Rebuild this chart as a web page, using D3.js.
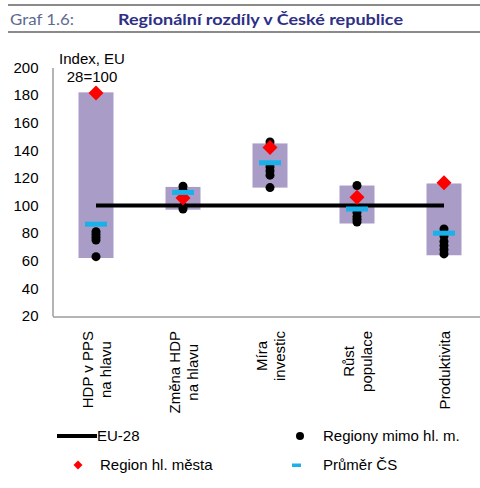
<!DOCTYPE html>
<meta charset="utf-8">
<head>
<style>
  body { margin: 0; background: #fff; }
  svg { display: block; }
  text { font-family: "Liberation Sans", Arial, sans-serif; fill: #000; }
</style>
</head>
<body>
<div id="chart"></div>
<script src="https://d3js.org/d3.v7.min.js"></script>
<script>
// chart data
var categories = ["HDP v PPS|na hlavu", "Změna HDP|na hlavu", "Míra|investic", "Růst|populace", "Produktivita"];
var rangeMin = [62, 97, 113, 87, 64];
var rangeMax = [182, 113.5, 145, 114.5, 116];
var capitalRegion = [181.5, 105.5, 142, 106, 116.5];
var czAverage = [86.5, 109.5, 131, 97.5, 80];
var otherRegions = [
  [81, 79, 77, 75, 63],
  [114, 111, 99, 97.5],
  [146, 128, 125, 122, 113],
  [114.5, 95, 92, 90, 88],
  [83, 78, 74, 71, 68, 65]
];
var euLevel = 100;
var yTicks = [20, 40, 60, 80, 100, 120, 140, 160, 180, 200];

var W = 480, H = 488;
var svg = d3.select("#chart").append("svg")
  .attr("width", W).attr("height", H);

// header
svg.append("line").attr("x1", 8).attr("x2", W).attr("y1", 5).attr("y2", 5)
  .attr("stroke", "#8a8a8a").attr("stroke-width", 2);
svg.append("line").attr("x1", 8).attr("x2", W).attr("y1", 32).attr("y2", 32)
  .attr("stroke", "#8a8a8a").attr("stroke-width", 2);
svg.append("text").attr("x", 10).attr("y", 25)
  .style("font-family", "Lato, 'Open Sans', sans-serif")
  .style("font-size", "16px").style("fill", "#5d6a93")
  .attr("textLength", 64).attr("lengthAdjust", "spacingAndGlyphs")
  .text("Graf 1.6:");
svg.append("text").attr("x", 118).attr("y", 25)
  .style("font-family", "Lato, 'Open Sans', sans-serif")
  .style("font-size", "16px").style("font-weight", "bold").style("fill", "#2e2f86")
  .attr("textLength", 285).attr("lengthAdjust", "spacingAndGlyphs")
  .text("Regionální rozdíly v České republice");

var x = d3.scaleBand().domain(categories).range([52.5, 487.5]);
var y = d3.scaleLinear().domain([20, 200]).range([316, 67.5]);
var cx = function(i) { return x(categories[i]) + x.bandwidth() / 2; };

// axes
var yAxis = svg.append("g").attr("transform", "translate(52.5,0)")
  .call(d3.axisLeft(y).tickValues(yTicks).tickSize(0).tickPadding(14));
yAxis.select(".domain").attr("stroke", "#6b6b6b");
yAxis.selectAll("text").style("font-size", "15px").style("font-family", "'Liberation Sans', Arial, sans-serif");

var xAxis = svg.append("g").attr("transform", "translate(0,316.5)")
  .call(d3.axisBottom(x).tickSize(0).tickFormat(""));
xAxis.select(".domain").attr("stroke", "#6b6b6b");

// unit label
svg.append("text").attr("x", 92).attr("y", 64).attr("text-anchor", "middle")
  .style("font-size", "15px").text("Index, EU");
svg.append("text").attr("x", 92).attr("y", 82).attr("text-anchor", "middle")
  .style("font-size", "15px").text("28=100");

// range bars
svg.selectAll("rect.range").data(categories).enter().append("rect")
  .attr("class", "range")
  .attr("x", function(d, i) { return cx(i) - 17.5; })
  .attr("width", 35)
  .attr("y", function(d, i) { return y(rangeMax[i]); })
  .attr("height", function(d, i) { return y(rangeMin[i]) - y(rangeMax[i]); })
  .attr("fill", "#a99cc7");

// EU-28 line
svg.append("line")
  .attr("x1", cx(0)).attr("x2", cx(categories.length - 1))
  .attr("y1", y(euLevel)).attr("y2", y(euLevel))
  .attr("stroke", "#000").attr("stroke-width", 4);

// other regions
var dots = [];
otherRegions.forEach(function(vals, i) { vals.forEach(function(v) { dots.push({i: i, v: v}); }); });
svg.selectAll("circle.reg").data(dots).enter().append("circle")
  .attr("class", "reg")
  .attr("cx", function(d) { return cx(d.i); })
  .attr("cy", function(d) { return y(d.v); })
  .attr("r", 4.5).attr("fill", "#000");

// capital region
svg.selectAll("path.cap").data(capitalRegion).enter().append("path")
  .attr("class", "cap")
  .attr("d", "M0,-7.5L7.5,0L0,7.5L-7.5,0Z")
  .attr("transform", function(d, i) { return "translate(" + cx(i) + "," + y(d) + ")"; })
  .attr("fill", "#ff0000");

// average
svg.selectAll("rect.avg").data(czAverage).enter().append("rect")
  .attr("class", "avg")
  .attr("x", function(d, i) { return cx(i) - 11; })
  .attr("y", function(d) { return y(d) - 2.5; })
  .attr("width", 22).attr("height", 5)
  .attr("fill", "#1ab0ea");

// category labels (rotated, top aligned)
categories.forEach(function(c, i) {
  var lines = c.split("|");
  var g = svg.append("g");
  var texts = lines.map(function(l, k) {
    return g.append("text").attr("text-anchor", "middle")
      .style("font-size", "15px").text(l);
  });
  var maxLen = d3.max(texts, function(t) { return t.node().getComputedTextLength(); });
  var n = lines.length;
  texts.forEach(function(t, k) {
    var bx = cx(i) + 6 + (k - (n - 1) / 2) * 17.5;
    var by = 331 + maxLen / 2;
    t.attr("transform", "translate(" + bx + "," + by + ") rotate(-90)");
  });
});

// legend
var lg = svg.append("g");
lg.append("line").attr("x1", 57).attr("x2", 97).attr("y1", 436).attr("y2", 436)
  .attr("stroke", "#000").attr("stroke-width", 4);
lg.append("text").attr("x", 97).attr("y", 441).style("font-size", "15px").text("EU-28");
lg.append("circle").attr("cx", 300).attr("cy", 436).attr("r", 4).attr("fill", "#000");
lg.append("text").attr("x", 323).attr("y", 441).style("font-size", "15px").text("Regiony mimo hl. m.");
lg.append("path").attr("d", "M0,-4.5L4.5,0L0,4.5L-4.5,0Z")
  .attr("transform", "translate(78,465)").attr("fill", "#ff0000");
lg.append("text").attr("x", 100).attr("y", 470).style("font-size", "15px").text("Region hl. města");
lg.append("rect").attr("x", 292).attr("y", 463.5).attr("width", 9).attr("height", 3.5).attr("fill", "#1ab0ea");
lg.append("text").attr("x", 323).attr("y", 470).style("font-size", "15px").text("Průměr ČS");
</script>
</body>
